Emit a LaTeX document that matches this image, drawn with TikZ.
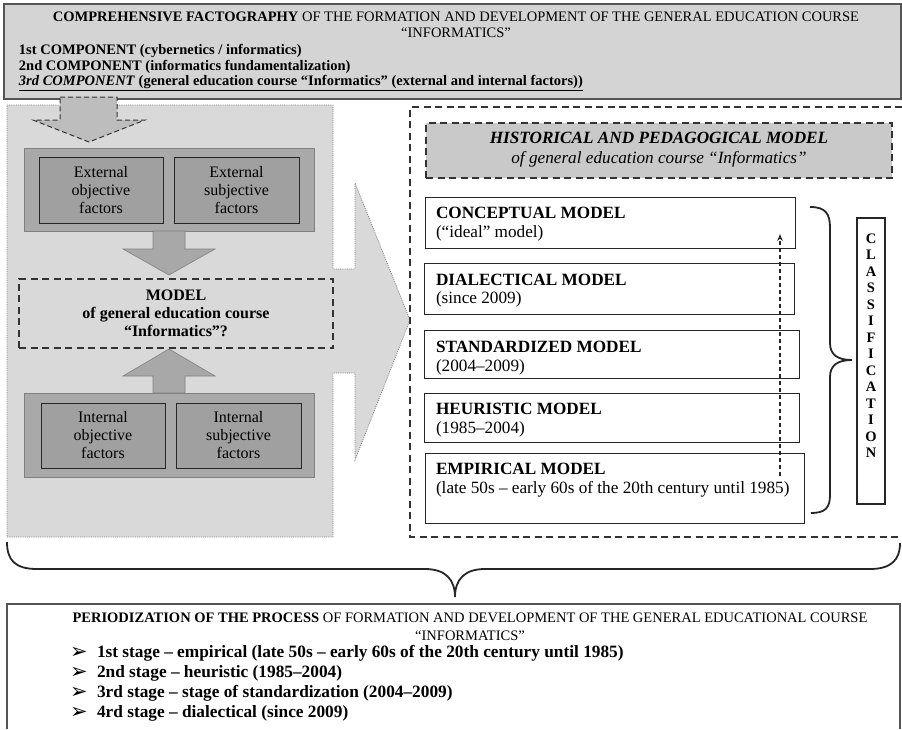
\documentclass[tikz,border=0pt]{standalone}
\usepackage{fontspec}
\setmainfont{Liberation Serif}
\newfontfamily\dejavu{DejaVu Sans}
\usetikzlibrary{arrows.meta,calc}
\definecolor{topgray}{HTML}{D4D4D4}
\definecolor{panelgray}{HTML}{D9D9D9}
\definecolor{groupgray}{HTML}{A9A9A9}
\definecolor{innergray}{HTML}{A0A0A0}
\definecolor{histgray}{HTML}{C9C9C9}
\definecolor{blockgray}{HTML}{A8A8A8}
\definecolor{dashgray}{HTML}{BDBDBD}
\definecolor{linegray}{HTML}{555555}
\tikzset{
  txt/.style={inner sep=0pt, outer sep=0pt},
  topbox/.style={draw=linegray, line width=1.6pt, fill=topgray},
  panel/.style={draw=gray, line width=0.8pt, dash pattern=on 1pt off 1.2pt, fill=panelgray},
  groupbox/.style={draw=gray, line width=0.8pt, fill=groupgray, inner sep=0pt},
  factorbox/.style={draw=black!85, line width=1pt, fill=innergray, align=center, inner sep=0pt,
     font=\fontsize{16}{18}\selectfont},
  dashbox/.style={draw=black!80, line width=1.1pt, dash pattern=on 7pt off 4.5pt},
  blockarrow/.style={draw=gray, line width=0.6pt, fill=blockgray},
  modelbox/.style={draw=black!85, line width=1.1pt, fill=white, inner sep=0pt},
  mtitle/.style={txt, anchor=west, font=\fontsize{17.2}{19}\selectfont\bfseries},
  msub/.style={txt, anchor=west, font=\fontsize{17.2}{19}\selectfont},
  toptext/.style={txt, anchor=west, font=\fontsize{14.5}{16}\selectfont\bfseries},
  braceline/.style={draw=black!85, line width=1.8pt},
}
\begin{document}
\begin{tikzpicture}[x=1pt,y=-1pt]
\useasboundingbox (0,0) rectangle (902,729);

% top box
\node[topbox, minimum width=897pt, minimum height=95pt, anchor=north west, inner sep=0pt] (top) at (3,3) {};
\node[txt, align=center, font=\fontsize{14.5}{16}\selectfont] (toptitle) at (456,25)
  {\textbf{COMPREHENSIVE FACTOGRAPHY} OF THE FORMATION AND DEVELOPMENT OF THE GENERAL EDUCATION COURSE\\``INFORMATICS''};
\node[toptext] (comp1) at (19,51) {1st COMPONENT (cybernetics / informatics)};
\node[toptext] (comp2) at (19,67) {2nd COMPONENT (informatics fundamentalization)};
\node[toptext] (comp3) at (19,83) {\underline{\textit{3rd COMPONENT} (general education course ``Informatics'' (external and internal factors))}};

% left panel merged with big right arrow
\draw[panel] (7,105) -- (333,105) -- (333,269) -- (355,269) -- (355,183) -- (410,320) -- (355,460)
  -- (355,373) -- (333,373) -- (333,537) -- (7,537) -- cycle;

% right dashed panel
\draw[dashbox] (902,107) -- (410,107) -- (410,537) -- (902,537);

% dashed arrow from top box
\draw[draw=black!80, line width=1pt, dash pattern=on 5pt off 3pt, fill=dashgray]
  (60,97) -- (117,97) -- (117,120) -- (145,120) -- (89,142) -- (33,120) -- (60,120) -- cycle;

% external factors
\node[groupbox, minimum width=290pt, minimum height=83pt, anchor=north west] (extgroup) at (24,148) {};
\node[factorbox, minimum width=124pt, minimum height=66pt] (extobj) at (101,190) {External\\objective\\factors};
\node[factorbox, minimum width=125pt, minimum height=66pt] (extsubj) at (236.5,190) {External\\subjective\\factors};

% internal factors
\node[groupbox, minimum width=290pt, minimum height=84pt, anchor=north west] (intgroup) at (24,393) {};
\node[factorbox, minimum width=124pt, minimum height=65pt] (intobj) at (103,435.5) {Internal\\objective\\factors};
\node[factorbox, minimum width=125pt, minimum height=65pt] (intsubj) at (238.5,435.5) {Internal\\subjective\\factors};

% model box
\node[dashbox, minimum width=314pt, minimum height=69pt, align=center, inner sep=0pt,
  font=\fontsize{16}{18}\selectfont\bfseries] (model) at (176,313.5)
  {MODEL\\of general education course\\``Informatics''?};

% block arrows
\draw[blockarrow] (153,231) -- (185,231) -- (185,249) -- (215,249) -- (169,275) -- (123,249) -- (153,249) -- cycle;
\draw[blockarrow] (169,349) -- (215,376) -- (185,376) -- (185,393) -- (153,393) -- (153,376) -- (123,376) -- cycle;

% historical and pedagogical model
\node[dashbox, fill=histgray, minimum width=466pt, minimum height=55pt, inner sep=0pt] (hist) at (659,150.5) {};
\node[txt, align=center, font=\fontsize{17.2}{20}\selectfont] (histtext) at (659,150)
  {\textbf{\textit{HISTORICAL AND PEDAGOGICAL MODEL}}\\\textit{of general education course ``Informatics''}};

% model boxes
\node[modelbox, minimum width=370pt, minimum height=51pt, anchor=north west] (conceptual) at (425,197) {};
\node[mtitle] (conceptualT) at (436,213) {CONCEPTUAL MODEL};
\node[msub] (conceptualS) at (436,233) {(``ideal'' model)};

\node[modelbox, minimum width=370pt, minimum height=51pt, anchor=north west] (dialectical) at (424,263) {};
\node[mtitle] (dialecticalT) at (436,280) {DIALECTICAL MODEL};
\node[msub] (dialecticalS) at (436,299) {(since 2009)};

\node[modelbox, minimum width=375pt, minimum height=48pt, anchor=north west] (standard) at (424,330) {};
\node[mtitle] (standardT) at (436,347) {STANDARDIZED MODEL};
\node[msub] (standardS) at (436,367) {(2004--2009)};

\node[modelbox, minimum width=375pt, minimum height=49pt, anchor=north west] (heuristic) at (424,393) {};
\node[mtitle] (heuristicT) at (436,409) {HEURISTIC MODEL};
\node[msub] (heuristicS) at (436,429) {(1985--2004)};

\node[modelbox, minimum width=379pt, minimum height=70pt, anchor=north west] (empirical) at (425,453) {};
\node[mtitle] (empiricalT) at (436,469) {EMPIRICAL MODEL};
\node[msub] (empiricalS) at (436,489) {(late 50s -- early 60s of the 20th century until 1985)};

% dashed upward arrow
\coordinate (dastart) at (780,476);
\coordinate (daend) at (780,234);
\draw[black!85, line width=1.1pt, dash pattern=on 4pt off 3pt, -{Stealth[length=7pt,width=5.5pt]}] (dastart) -- (daend);

% classification brace
\draw[braceline] (810,207) .. controls (826,207) and (830,214) .. (830,228) -- (830,343)
  .. controls (830,355) and (838,360) .. (852,360)
  .. controls (838,360) and (830,365) .. (830,377) -- (830,495)
  .. controls (830,508) and (825,513) .. (811,513);

% classification box
\node[draw=black!85, line width=1.1pt, minimum width=28pt, minimum height=286pt, inner sep=0pt] (classbox) at (871,361) {};
\node[txt, align=center, font=\fontsize{14.5}{16.5}\selectfont\bfseries] (classtext) at (871,345.5)
  {C\\L\\A\\S\\S\\I\\F\\I\\C\\A\\T\\I\\O\\N};

% bottom brace
\draw[braceline] (7,542) .. controls (7,560) and (15,569) .. (37,569) -- (425,569)
  .. controls (446,569) and (455,580) .. (455,597)
  .. controls (455,580) and (464,569) .. (485,569) -- (870,569)
  .. controls (891,569) and (900,560) .. (900,543);

% bottom box
\draw[draw=linegray, line width=1.4pt] (7,729) -- (7,604) -- (900,604) -- (900,729);
\node[txt, align=center, font=\fontsize{14.5}{18}\selectfont] (period) at (470,627)
  {\textbf{PERIODIZATION OF THE PROCESS} OF FORMATION AND DEVELOPMENT OF THE GENERAL EDUCATIONAL COURSE\\``INFORMATICS''};
\foreach \y/\t [count=\i] in {653/{1st stage -- empirical (late 50s -- early 60s of the 20th century until 1985)},
  673/{2nd stage -- heuristic (1985--2004)},
  693/{3rd stage -- stage of standardization (2004--2009)},
  713/{4rd stage -- dialectical (since 2009)}}{
  \node[txt, anchor=west, font=\fontsize{21}{22}\selectfont\dejavu] (bul\i) at (70,\y) {➢};
  \node[txt, anchor=west, font=\fontsize{17.3}{18}\selectfont\bfseries] (stage\i) at (97,\y) {\t};
}
\end{tikzpicture}
\end{document}
